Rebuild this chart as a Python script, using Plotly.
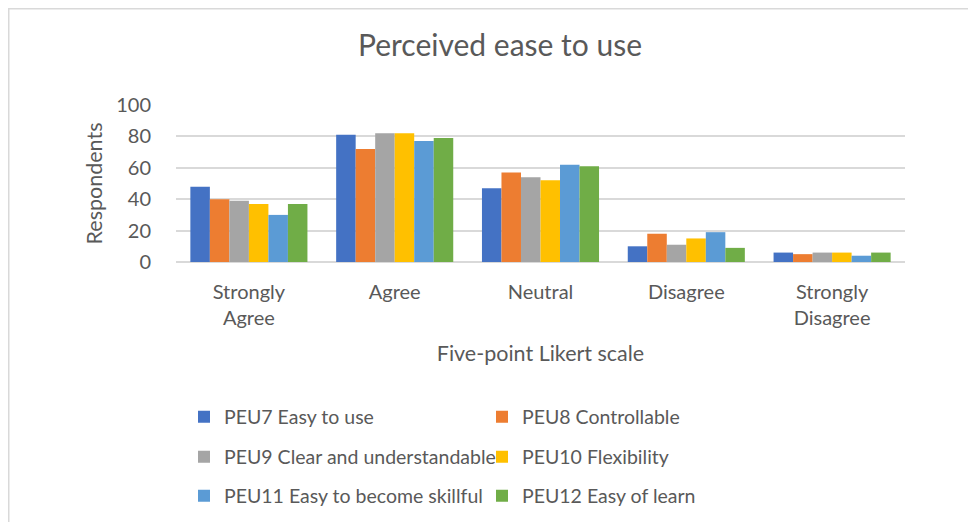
import plotly.graph_objects as go

categories = ["Strongly<br>Agree", "Agree", "Neutral", "Disagree", "Strongly<br>Disagree"]
series_names = [
    "PEU7 Easy to use",
    "PEU8 Controllable",
    "PEU9 Clear and understandable",
    "PEU10 Flexibility",
    "PEU11 Easy to become skillful",
    "PEU12 Easy of learn",
]
peu7 = [48, 81, 47, 10, 6]
peu8 = [40, 72, 57, 18, 5]
peu9 = [39, 82, 54, 11, 6]
peu10 = [37, 82, 52, 15, 6]
peu11 = [30, 77, 62, 19, 4]
peu12 = [37, 79, 61, 9, 6]
series_values = [peu7, peu8, peu9, peu10, peu11, peu12]
colors = ["#4472C4", "#ED7D31", "#A5A5A5", "#FFC000", "#5B9BD5", "#70AD47"]
y_ticks = [0, 20, 40, 60, 80, 100]

FONT = "Lato"
GREY = "#595959"

# The page body has an 8px margin, so the figure is offset by 8px.
OFF = 8
W, H = 976 - OFF, 522 - OFF
L, R, T, B = 176 - OFF, 71, 105 - OFF, 260
pw, ph = W - L - R, H - T - B

fig = go.Figure()
legend_ids = ["legend", "legend", "legend2", "legend2", "legend3", "legend3"]
for name, vals, col, lg in zip(series_names, series_values, colors, legend_ids):
    fig.add_trace(go.Bar(
        x=categories, y=vals, name=name, marker_color=col,
        marker_line_width=0, legend=lg,
    ))

# convert reference-screen pixel positions to paper coordinates
def px_x(p):
    return (p - OFF - L) / pw

def px_y(p):
    return (H - B - (p - OFF)) / ph

legend_common = dict(
    orientation="h", xanchor="left", yanchor="middle",
    font=dict(family=FONT, size=19.5, color=GREY),
    entrywidth=253, entrywidthmode="pixels",
    bgcolor="rgba(0,0,0,0)", borderwidth=0, itemclick=False,
)

fig.update_layout(
    width=W, height=H,
    margin=dict(l=L, r=R, t=T, b=B, autoexpand=False),
    paper_bgcolor="white", plot_bgcolor="white",
    barmode="group", bargap=0.197, bargroupgap=0,
    title=dict(text="Perceived ease to use", x=(500 - OFF) / W, xanchor="center",
               y=1 - (45 - OFF) / H, yanchor="middle",
               font=dict(family=FONT, size=30, color=GREY)),
    font=dict(family=FONT, color=GREY),
    xaxis=dict(
        showgrid=False, showline=False, ticks="",
        tickfont=dict(family=FONT, size=20, color=GREY),
        ticklabelstandoff=16,
        title=dict(text="Five-point Likert scale",
                   font=dict(family=FONT, size=21.5, color=GREY), standoff=17),
    ),
    yaxis=dict(
        range=[0, 100], tickvals=y_ticks, showgrid=True, gridcolor="#d9d9d9",
        gridwidth=1.5, zeroline=True, zerolinecolor="#d9d9d9", zerolinewidth=1.5,
        showline=False, ticks="",
        tickfont=dict(family=FONT, size=20, color=GREY),
        ticklabelstandoff=24,
        title=dict(text="Respondents",
                   font=dict(family=FONT, size=21.5, color=GREY), standoff=7),
    ),
    legend=dict(x=px_x(184), y=px_y(417), **legend_common),
    legend2=dict(x=px_x(184), y=px_y(457), **legend_common),
    legend3=dict(x=px_x(184), y=px_y(496), **legend_common),
    shapes=[dict(type="rect", xref="paper", yref="paper",
                 x0=px_x(8.75), x1=px_x(1000), y0=px_y(560), y1=px_y(8.75),
                 line=dict(color="#d9d9d9", width=1.5), layer="below")],
)

fig.write_html("out.html")
